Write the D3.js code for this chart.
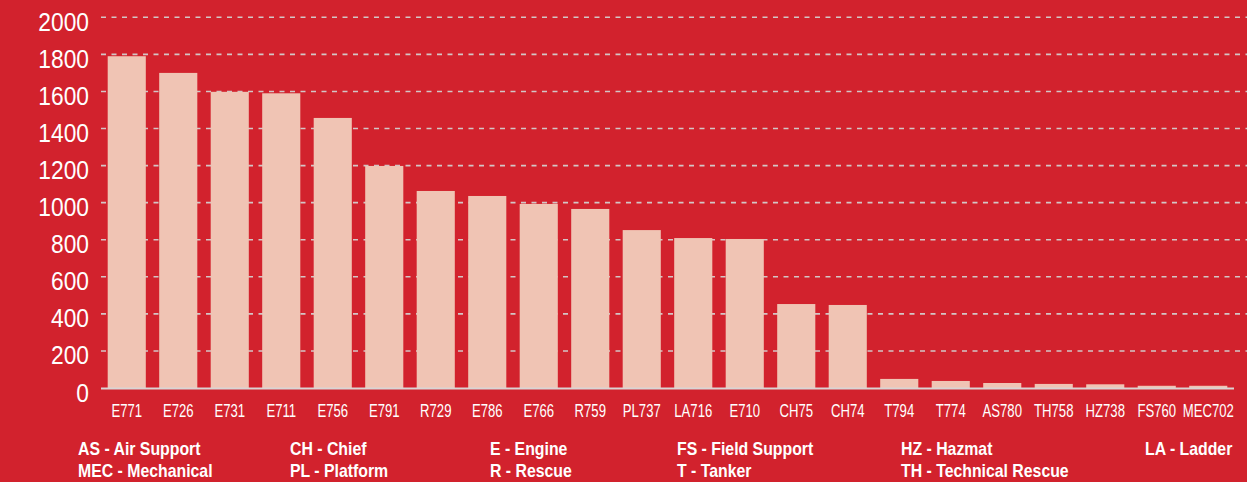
<!DOCTYPE html>
<html>
<head>
<meta charset="utf-8">
<script src="https://cdn.jsdelivr.net/npm/d3@7"></script>
<style>
  html, body { margin: 0; padding: 0; background: #d2222d; }
  svg { display: block; }
  text { font-family: "Liberation Sans", Arial, sans-serif; fill: #fff; }
</style>
</head>
<body>
<div id="chart"></div>
<script>
// units and their call counts
var units = ["E771", "E726", "E731", "E711", "E756", "E791", "R729", "E786", "E766", "R759",
             "PL737", "LA716", "E710", "CH75", "CH74", "T794", "T774", "AS780", "TH758", "HZ738",
             "FS760", "MEC702"];
var calls = [1790, 1700, 1598, 1590, 1457, 1198, 1063, 1036, 993, 966,
             852, 809, 804, 453, 448, 49, 38, 27, 22, 20,
             12, 12];
var yTicks = [0, 200, 400, 600, 800, 1000, 1200, 1400, 1600, 1800, 2000];
var legendTop = ["AS - Air Support", "CH - Chief", "E - Engine", "FS - Field Support", "HZ - Hazmat", "LA - Ladder"];
var legendBottom = ["MEC - Mechanical", "PL - Platform", "R - Rescue", "T - Tanker", "TH - Technical Rescue", ""];

var width = 1247, height = 482;
var m = { left: 101, right: 1234, top: 17.3, bottom: 388 };

var svg = d3.select("#chart").append("svg")
    .attr("width", width)
    .attr("height", height)
    .style("background", "#d2222d");

var x = d3.scaleBand()
    .domain(units)
    .range([m.left, m.right])
    .paddingInner(0.26)
    .paddingOuter(0.13);

var y = d3.scaleLinear()
    .domain([0, 2000])
    .range([m.bottom, m.top]);

// dashed grid
svg.append("g")
  .selectAll("line")
    .data(yTicks.filter(function(d) { return d > 0; }))
  .enter().append("line")
    .attr("x1", m.left)
    .attr("x2", width)
    .attr("y1", function(d) { return y(d); })
    .attr("y2", function(d) { return y(d); })
    .attr("stroke", "#d3c6c6")
    .attr("stroke-width", 1.6)
    .attr("stroke-dasharray", "5,5.5");

// bars
svg.append("g")
  .selectAll("rect")
    .data(units)
  .enter().append("rect")
    .attr("x", function(d) { return x(d); })
    .attr("width", x.bandwidth())
    .attr("y", function(d, i) { return y(calls[i]); })
    .attr("height", function(d, i) { return m.bottom - y(calls[i]); })
    .attr("fill", "#f0c4b4");

// baseline
svg.append("line")
    .attr("x1", m.left)
    .attr("x2", m.right)
    .attr("y1", m.bottom + 0.5)
    .attr("y2", m.bottom + 0.5)
    .attr("stroke", "#d9d4d4")
    .attr("stroke-width", 2.2);

// y axis labels (squeezed to look like a condensed face)
var yAxis = svg.append("g")
    .attr("transform", "translate(89,0)")
    .call(d3.axisLeft(y).tickValues(yTicks).tickFormat(d3.format("d")).tickSize(0).tickPadding(0));
yAxis.attr("font-family", null).attr("font-size", null);
yAxis.select(".domain").remove();
yAxis.selectAll("text")
    .attr("font-size", 26.5)
    .attr("x", 0)
    .attr("dy", "0.49em")
    .attr("transform", "scale(0.86,1)");

// x axis labels
var xAxis = svg.append("g")
    .attr("transform", "translate(0," + m.bottom + ")")
    .call(d3.axisBottom(x).tickSize(0).tickPadding(16));
xAxis.attr("font-family", null).attr("font-size", null);
xAxis.select(".domain").remove();
xAxis.selectAll("text")
    .attr("font-size", 18)
    .attr("transform", "scale(0.73,1)");

// abbreviation legend
var cols = [78, 290, 490, 677, 901, 1145];
var legend = svg.append("g").attr("font-weight", "bold").attr("font-size", 18);
[[legendTop, 455], [legendBottom, 477]].forEach(function(row) {
  legend.append("g")
    .selectAll("text")
      .data(row[0])
    .enter().append("text")
      .attr("transform", function(d, i) { return "translate(" + cols[i] + "," + row[1] + ") scale(0.88,1)"; })
      .text(function(d) { return d; });
});
</script>
</body>
</html>
